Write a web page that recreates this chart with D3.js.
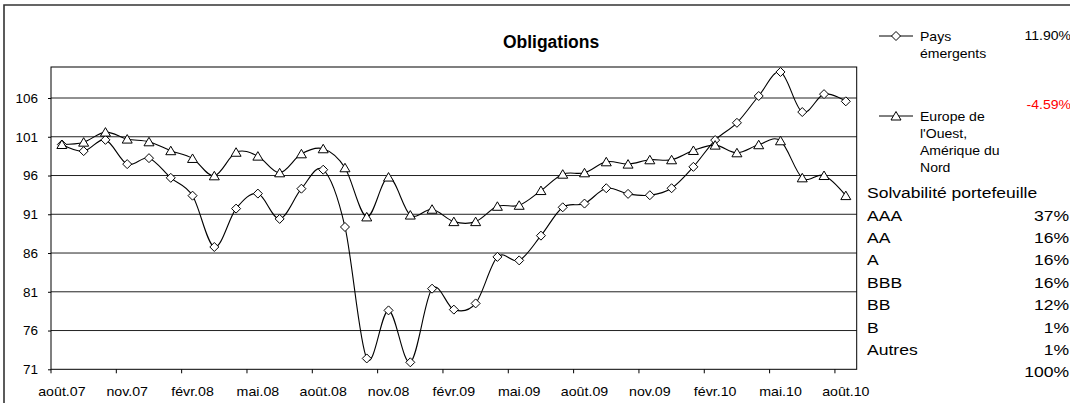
<!DOCTYPE html>
<html>
<head>
<meta charset="utf-8">
<script src="https://cdn.jsdelivr.net/npm/d3@7"></script>
<style>
  html, body { margin: 0; padding: 0; background: #fff; }
  svg { display: block; font-family: "Liberation Sans", Arial, sans-serif; }
</style>
</head>
<body>
<svg id="chart" width="1070" height="403"></svg>
<script>
// ---- data ----
const months = ["août.07","sept.07","oct.07","nov.07","déc.07","janv.08","févr.08","mars.08","avr.08","mai.08","juin.08","juil.08",
  "août.08","sept.08","oct.08","nov.08","déc.08","janv.09","févr.09","mars.09","avr.09","mai.09","juin.09","juil.09",
  "août.09","sept.09","oct.09","nov.09","déc.09","janv.10","févr.10","mars.10","avr.10","mai.10","juin.10","juil.10","août.10"];
const emergents = [100.0, 99.15, 100.6, 97.47, 98.24, 95.7, 93.4, 86.78, 91.73, 93.67, 90.4, 94.3, 96.75, 89.36, 72.4, 78.6,
  71.9, 81.4, 78.7, 79.5, 85.5, 85.05, 88.24, 91.9, 92.38, 94.36, 93.63, 93.46, 94.36, 97.12, 100.57, 102.8, 106.26, 109.36,
  104.19, 106.5, 105.57];
const europe = [100.0, 100.3, 101.6, 100.7, 100.35, 99.2, 98.2, 95.96, 99.0, 98.5, 96.35, 98.8, 99.45, 97.0, 90.66, 95.8,
  90.9, 91.65, 90.05, 90.05, 92.03, 92.16, 94.06, 96.17, 96.35, 97.77, 97.47, 98.03, 98.03, 99.23, 99.92, 98.93, 99.97, 100.48,
  95.7, 96.0, 93.41];
const yTicks = [71, 76, 81, 86, 91, 96, 101, 106];
const seriesNames = [["Pays", "émergents"], ["Europe de", "l'Ouest,", "Amérique du", "Nord"]];
const seriesPerf = ["11.90%", "-4.59%"];
const ratingLabels = ["AAA", "AA", "A", "BBB", "BB", "B", "Autres"];
const ratingValues = ["37%", "16%", "16%", "16%", "12%", "1%", "1%"];
const ratingTotal = "100%";

// ---- layout ----
const svg = d3.select("#chart");
const L = 51, R = 856.7, T = 67, B = 369.3;

const x = d3.scaleLinear().domain([0, months.length]).range([L, R]);
const y = d3.scaleLinear().domain([71, 110]).range([B, T]);

// helper: horizontally stretched text
function wideText(parent, tx, ty, str, size, sx, anchor, fill) {
  return parent.append("text")
    .attr("transform", `translate(${tx},${ty}) scale(${sx},1)`)
    .attr("text-anchor", anchor || "start")
    .attr("font-size", size)
    .attr("fill", fill || "#000")
    .text(str);
}

// outer frame (cropped)
svg.append("path").attr("d", "M4,403V5H1070").attr("fill", "none").attr("stroke", "#333").attr("stroke-width", 1.6);

// gridlines
svg.append("g").selectAll("line").data(yTicks.slice(1)).join("line")
  .attr("x1", L).attr("x2", R).attr("y1", d => y(d)).attr("y2", d => y(d))
  .attr("stroke", "#222").attr("stroke-width", 1);

// plot frame
svg.append("rect").attr("x", L).attr("y", T).attr("width", R - L).attr("height", B - T)
  .attr("fill", "none").attr("stroke", "#000").attr("stroke-width", 1);

// y axis
const yAxis = svg.append("g").attr("transform", `translate(${L},0)`)
  .call(d3.axisLeft(y).tickValues(yTicks).tickSize(3).tickPadding(10).tickFormat(d3.format("d")));
yAxis.select(".domain").remove();
yAxis.selectAll("text").attr("font-size", 13.5).attr("fill", "#000").attr("font-family", "Liberation Sans, Arial, sans-serif");
yAxis.selectAll("line").attr("stroke", "#000");

// x axis tick marks at category boundaries every 3 months
const tickIdx = d3.range(0, months.length, 3);
svg.append("g").selectAll("line").data(tickIdx).join("line")
  .attr("x1", d => x(d)).attr("x2", d => x(d)).attr("y1", B).attr("y2", B + 4)
  .attr("stroke", "#000");
const xl = svg.append("g");
tickIdx.forEach(d => wideText(xl, x(d + 0.5), 396, months[d], 13.4, 1.06, "middle"));

// title
svg.append("text").attr("x", 551).attr("y", 48).attr("text-anchor", "middle")
  .attr("font-size", 17.5).attr("font-weight", "bold").text("Obligations");

// lines
const line = d3.line().x((d, i) => x(i + 0.5)).y(d => y(d)).curve(d3.curveCardinal.tension(0));
[emergents, europe].forEach(s => {
  svg.append("path").datum(s).attr("d", line).attr("fill", "none").attr("stroke", "#000").attr("stroke-width", 1.1);
});

const diamond = "M0,-4.5L4.5,0L0,4.5L-4.5,0Z";
const triangle = "M0,-4.5L5,4L-5,4Z";

svg.append("g").selectAll("path").data(emergents).join("path")
  .attr("transform", (d, i) => `translate(${x(i + 0.5)},${y(d)})`)
  .attr("d", diamond).attr("fill", "#fff").attr("stroke", "#000").attr("stroke-width", 1);
svg.append("g").selectAll("path").data(europe).join("path")
  .attr("transform", (d, i) => `translate(${x(i + 0.5)},${y(d)})`)
  .attr("d", triangle).attr("fill", "#fff").attr("stroke", "#000").attr("stroke-width", 1);

// legend
const legY = [36, 116];
const markers = [diamond, triangle];
const perfY = [40, 109];
const perfColor = ["#000", "#ff0000"];
legY.forEach((ly, k) => {
  const g = svg.append("g");
  g.append("line").attr("x1", 879).attr("x2", 913).attr("y1", ly).attr("y2", ly).attr("stroke", "#000");
  g.append("path").attr("d", markers[k]).attr("transform", `translate(896,${ly})`)
    .attr("fill", "#fff").attr("stroke", "#000");
  seriesNames[k].forEach((t, j) => wideText(g, 920, ly + 4.5 + j * 17, t, 13, 1.08));
  wideText(g, 1071, perfY[k], seriesPerf[k], 13, 1.08, "end", perfColor[k]);
});

// rating table
wideText(svg, 867, 198, "Solvabilité portefeuille", 15.5, 1.13);
const rowY = i => 220.5 + i * 22.4;
const tb = svg.append("g");
ratingLabels.forEach((d, i) => wideText(tb, 867, rowY(i), d, 15, 1.17));
ratingValues.forEach((d, i) => wideText(tb, 1069, rowY(i), d, 15, 1.17, "end"));
wideText(tb, 1069, rowY(ratingLabels.length), ratingTotal, 15, 1.17, "end");
</script>
</body>
</html>
